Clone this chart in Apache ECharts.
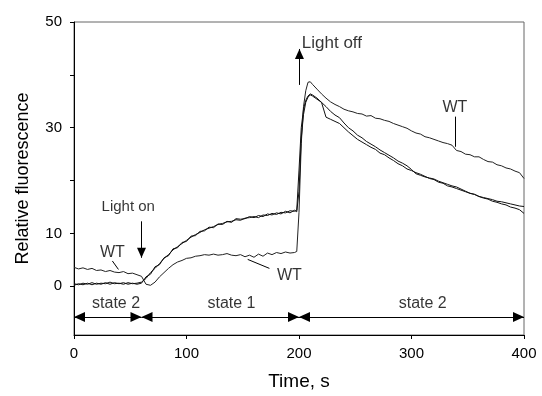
<!DOCTYPE html>
<html>
<head>
<meta charset="utf-8">
<script src="https://cdn.jsdelivr.net/npm/echarts@6/dist/echarts.min.js"></script>
<style>
html,body{margin:0;padding:0;background:#fff;}
#chart{width:542px;height:396px;}
</style>
</head>
<body>
<div id="chart"></div>
<script>
// ---- data ----
var time = [0,4,8,12,16,20,24,28,32,36,40,44,48,52,56,60,64,68,72,76,80,84,88,92,96,100,104,108,112,116,120,124,128,132,136,140,144,148,152,156,160,164,168,172,176,180,184,188,192,196,
198,200,202,204,206,208,210,212,
216,220,224,228,232,236,240,244,248,252,256,260,264,268,272,276,280,284,288,292,296,300,304,308,312,316,320,324,328,332,336,340,344,348,352,356,360,364,368,372,376,380,384,388,392,396,400];

var wt = [3.6,3.3,3.5,3.2,3.4,3.0,3.1,2.8,3.0,2.7,2.6,2.8,2.4,2.5,2.2,1.9,0.4,0.2,0.8,1.8,2.6,3.4,4.1,4.6,4.9,5.3,5.4,5.7,5.8,6.0,5.9,6.1,5.9,6.0,6.2,5.9,5.8,6.0,5.6,5.9,5.5,6.1,5.7,6.3,6.0,6.4,6.2,6.5,6.3,6.4,
6.6,14,27,34,37,38.6,38.7,38.2,
37.3,36.4,35.6,34.9,34.4,34.0,33.5,33.2,33.0,32.7,32.6,32.2,32.3,31.8,31.7,31.4,31.2,30.8,30.5,30.2,29.9,29.4,29.0,28.8,28.3,28.1,27.8,27.5,27.2,27.0,26.7,25.7,25.5,25.0,24.9,24.5,24.5,24.0,23.6,23.5,23.0,22.8,22.4,22.2,21.8,21.5,20.4];

var mutantA = [0.5,0.3,0.6,0.4,0.7,0.4,0.6,0.5,0.8,0.5,0.6,0.4,0.7,0.5,0.6,0.8,1.5,2.6,3.4,4.3,5.3,6.0,6.9,7.5,8.1,8.7,9.3,9.8,10.2,10.7,11.0,11.3,11.7,11.9,12.2,12.3,12.6,12.5,12.9,13.0,13.2,13.0,13.5,13.4,13.8,13.6,14.0,13.9,14.3,14.2,
14.4,22,30,33.5,35.2,36.0,36.4,36.2,
35.6,34.8,32.0,31.6,31.2,30.8,30.0,29.2,28.5,27.8,27.3,26.8,26.3,25.9,25.2,24.9,24.3,23.8,23.2,22.8,22.2,21.9,21.5,21.2,20.8,20.4,20.2,19.7,19.5,19.0,18.8,18.5,18.2,17.9,17.6,17.4,17.0,16.7,16.5,16.1,15.9,15.6,15.4,15.0,14.8,14.5,13.8];

var mutantB = [0.2,0.5,0.3,0.6,0.3,0.6,0.4,0.7,0.4,0.7,0.5,0.7,0.4,0.6,0.4,0.6,1.8,2.3,3.7,4.1,5.4,5.8,7.1,7.3,8.3,8.5,9.5,9.6,10.4,10.5,11.2,11.1,11.8,11.7,12.3,12.1,12.8,12.7,12.8,13.2,13.0,13.4,13.2,13.7,13.5,13.9,13.7,14.2,13.9,14.4,
14.1,18,28,32.5,34.8,35.8,36.2,36.0,
35.4,34.8,34.0,33.1,32.4,31.9,30.9,30.0,29.4,28.6,28.1,27.4,26.9,26.4,25.8,25.3,24.8,24.3,23.7,23.3,22.8,22.1,21.3,21.0,20.7,20.5,20.3,19.9,19.6,19.3,19.0,18.8,18.4,18.0,17.6,17.4,17.0,16.8,16.6,16.4,16.1,16.0,15.8,15.6,15.4,15.2,15.1];

var xTicks = [0,100,200,300,400];
var yTicks = [0,10,20,30,40,50];
var yTickLabels = [0,10,30,50];

// annotation texts and their anchor points (data coordinates)
var noteText = ['Light on','Light off','WT','WT','WT','state 2','state 1','state 2'];
var noteX    = [48.2, 202.5, 34.1, 191.5, 338.5, 37.4, 140, 310];
var noteY    = [15.1, 46.0, 6.4, 2.0, 33.8, -3.3, -3.3, -3.3];
var noteSize = [15, 17, 16, 16, 16, 16, 16, 16];
var noteAlign= ['center','left','center','center','center','center','center','center'];

// state-arrow segments along y = stateY
var stateBounds = [0, 60, 200, 400];
var stateY = -5.8;

// ---- build ----
function pairs(ys){ return time.map(function(t,i){ return [t, ys[i]]; }); }

var notes = noteText.map(function(s,i){
  return {value:[noteX[i], noteY[i]], label:{formatter:s, fontSize:noteSize[i], align:noteAlign[i]}};
});

function head(x, y, w, h){
  return {coord:[x, y], symbol:'triangle', symbolSize:[w,h], symbolOffset:[0, h/2]};
}
var arrowLines = [];
for (var i=0;i<stateBounds.length-1;i++){
  arrowLines.push([head(stateBounds[i], stateY, 10, 11), head(stateBounds[i+1], stateY, 10, 11)]);
}
// Light on / Light off arrows
arrowLines.push([{coord:[60, 12.3], symbol:'none'}, head(60, 5.4, 9, 10)]);
arrowLines.push([{coord:[200.4, 38.1], symbol:'none'}, head(200.4, 44.9, 9, 10)]);
// leader lines
arrowLines.push([{coord:[34.1,4.8], symbol:'none'},{coord:[39.5,3.2], symbol:'none'}]);
arrowLines.push([{coord:[154.4,5.1], symbol:'none'},{coord:[173.7,3.4], symbol:'none'}]);
arrowLines.push([{coord:[338.5,32.1], symbol:'none'},{coord:[338.5,26.4], symbol:'none'}]);

var FONT = '"Liberation Sans", Arial, sans-serif';
var chart = echarts.init(document.getElementById('chart'), null, {renderer:'canvas'});
chart.setOption({
  animation:false,
  backgroundColor:'#fff',
  textStyle:{fontFamily:FONT, color:'#000'},
  grid:{left:74, right:18, top:22, bottom:58, show:true, borderColor:'#666', borderWidth:1},
  xAxis:{
    type:'value', min:0, max:400, interval:100,
    name:'Time, s', nameLocation:'middle', nameGap:37,
    nameTextStyle:{fontSize:19, color:'#000', fontFamily:FONT},
    axisLine:{onZero:false, lineStyle:{color:'#000', width:1}},
    axisTick:{show:true, length:4, lineStyle:{color:'#000'}},
    axisLabel:{fontSize:15, color:'#000', margin:11, fontFamily:FONT,
      formatter:function(v){ return xTicks.indexOf(v)>=0 ? String(v) : ''; }},
    splitLine:{show:false}
  },
  yAxis:{
    type:'value', min:-9.2, max:50,
    name:'Relative fluorescence', nameLocation:'middle', nameGap:42,
    nameTextStyle:{fontSize:18, color:'#000', fontFamily:FONT},
    axisLine:{show:true, onZero:false, lineStyle:{color:'#000', width:1}},
    axisTick:{show:true, length:4, customValues:yTicks, lineStyle:{color:'#000'}},
    axisLabel:{fontSize:15, color:'#000', margin:12, fontFamily:FONT, customValues:yTickLabels,
      formatter:function(v){ return yTickLabels.indexOf(v)>=0 ? String(v) : ''; }},
    splitLine:{show:false}
  },
  series:[
    {type:'line', name:'WT', data:pairs(wt), showSymbol:false, symbol:'none',
     lineStyle:{color:'#222', width:1}, silent:true},
    {type:'line', name:'mutant A', data:pairs(mutantA), showSymbol:false, symbol:'none',
     lineStyle:{color:'#111', width:1}, silent:true},
    {type:'line', name:'mutant B', data:pairs(mutantB), showSymbol:false, symbol:'none',
     lineStyle:{color:'#111', width:1}, silent:true},
    {type:'scatter', data:notes, symbolSize:0, silent:true,
     label:{show:true, position:'inside', color:'#000', fontFamily:FONT, verticalAlign:'middle'}},
    {type:'line', data:[], silent:true,
     markLine:{silent:true, animation:false, label:{show:false},
       lineStyle:{color:'#000', width:1, type:'solid'},
       emphasis:{disabled:true},
       itemStyle:{color:'#000'},
       data:arrowLines}}
  ]
});
</script>
</body>
</html>
